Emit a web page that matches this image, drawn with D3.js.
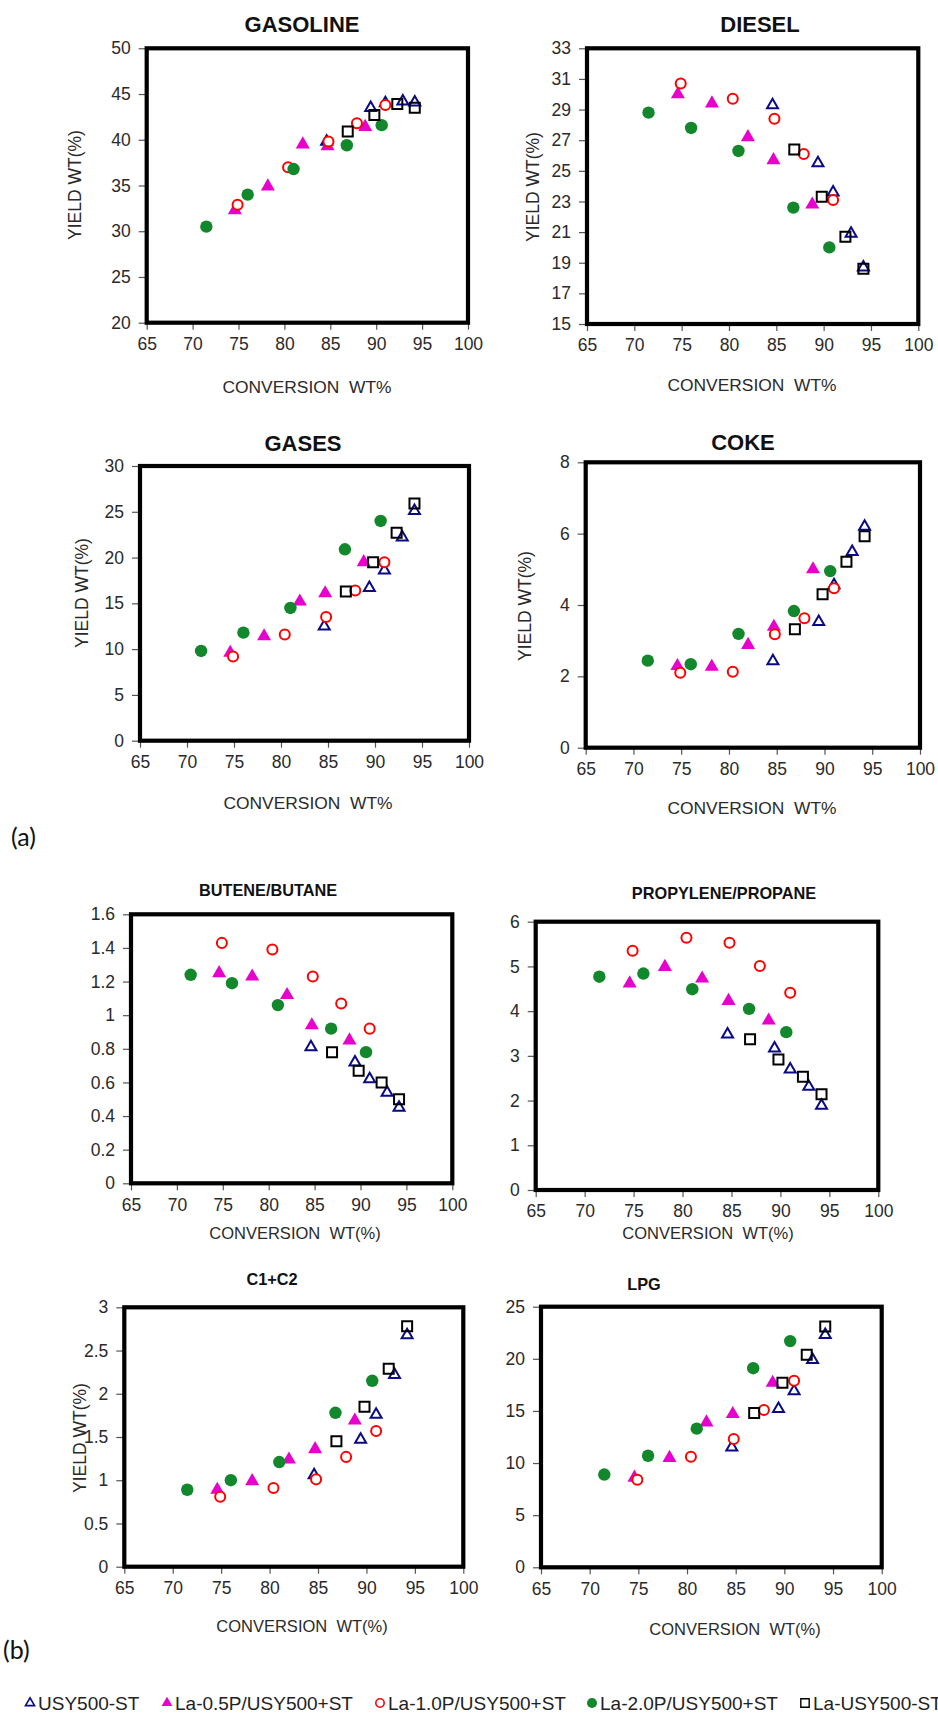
<!DOCTYPE html>
<html>
<head>
<meta charset="utf-8">
<script src="https://cdn.jsdelivr.net/npm/d3@7"></script>
<style>
  body { margin: 0; background: #fff; }
  text { font-family: "Liberation Sans", Arial, sans-serif; }
</style>
</head>
<body>
<script>
/* width and height */
var w = 938;
var h = 1713;

// catalysts, in legend order
var seriesNames = ["USY500-ST", "La-0.5P/USY500+ST", "La-1.0P/USY500+ST", "La-2.0P/USY500+ST", "La-USY500-ST"];

// conversion WT% of each catalyst (same points in every panel)
var convUSY  = [84.6, 89.4, 91.0, 92.9, 94.2];
var convLa05 = [74.6, 78.2, 82.0, 84.7, 88.8];
var convLa10 = [74.9, 80.4, 84.8, 87.9, 91.0];
var convLa20 = [71.5, 76.0, 81.0, 86.8, 90.6];
var convLaUSY = [86.9, 89.8, 92.3, 94.2];

// yields, one list per catalyst (same order as seriesNames)
var yGasoline = [
  [39.8, 43.5, 44.0, 44.2, 44.1],
  [32.3, 34.9, 39.5, 39.3, 41.4],
  [32.9, 37.0, 39.8, 41.8, 43.8],
  [30.5, 34.0, 36.8, 39.4, 41.6],
  [40.9, 42.7, 43.9, 43.5]
];
var yDiesel = [
  [29.3, 25.5, 23.6, 20.9, 18.7],
  [30.0, 29.4, 27.2, 25.7, 22.8],
  [30.7, 29.7, 28.4, 26.1, 23.1],
  [28.8, 27.8, 26.3, 22.6, 20.0],
  [26.4, 23.3, 20.7, 18.6]
];
var yGases = [
  [12.5, 16.7, 18.6, 22.2, 25.1],
  [9.6, 11.4, 15.2, 16.1, 19.5],
  [9.2, 11.6, 13.5, 16.4, 19.5],
  [9.8, 11.8, 14.5, 20.9, 24.0],
  [16.3, 19.5, 22.7, 25.9]
];
var yCoke = [
  [2.43, 3.53, 4.56, 5.49, 6.2],
  [2.29, 2.27, 2.88, 3.39, 5.0],
  [2.10, 2.13, 3.18, 3.63, 4.47],
  [2.44, 2.34, 3.19, 3.83, 4.95],
  [3.32, 4.3, 5.21, 5.93]
];
var yButene = [
  [0.81, 0.72, 0.62, 0.54, 0.45],
  [1.25, 1.23, 1.12, 0.94, 0.85],
  [1.43, 1.39, 1.23, 1.07, 0.92],
  [1.24, 1.19, 1.06, 0.92, 0.78],
  [0.78, 0.67, 0.60, 0.50]
];
var yPropylene = [
  [3.48, 3.17, 2.70, 2.31, 1.89],
  [4.62, 4.99, 4.73, 4.23, 3.79],
  [5.35, 5.64, 5.53, 5.01, 4.41],
  [4.77, 4.84, 4.49, 4.05, 3.53],
  [3.37, 2.92, 2.53, 2.14]
];
var yC1C2 = [
  [1.06, 1.47, 1.76, 2.22, 2.68],
  [0.89, 0.99, 1.24, 1.36, 1.69],
  [0.81, 0.91, 1.01, 1.27, 1.57],
  [0.89, 1.00, 1.21, 1.78, 2.15],
  [1.45, 1.85, 2.29, 2.78]
];
var yLPG = [
  [11.5, 15.2, 16.9, 19.9, 22.3],
  [8.6, 10.5, 13.9, 14.7, 17.7],
  [8.4, 10.6, 12.3, 15.1, 17.9],
  [8.9, 10.7, 13.3, 19.1, 21.7],
  [14.8, 17.7, 20.4, 23.1]
];

var xTicks = [65, 70, 75, 80, 85, 90, 95, 100];

var convs = [convUSY, convLa05, convLa10, convLa20, convLaUSY];

// marker style per catalyst
var markers = [
  {type: d3.symbolTriangle, size: 52, fill: "none", stroke: "#0a0a84", sw: 2},
  {type: d3.symbolTriangle, size: 85, fill: "#e800cc", stroke: "none", sw: 0},
  {type: d3.symbolCircle, size: 79, fill: "#fff", stroke: "#ff0000", sw: 2},
  {type: d3.symbolCircle, size: 121, fill: "#13872c", stroke: "none", sw: 0},
  {type: d3.symbolSquare, size: 100, fill: "none", stroke: "#000", sw: 2}
];

// panel layout (pixel boxes of the plot area)
var panels = [
  {title: "GASOLINE", ys: yGasoline, yTicks: [20, 25, 30, 35, 40, 45, 50],
   box: [146.7, 468, 48.3, 322.7], tPos: [302, 24], tSize: 22,
   xLabel: "CONVERSION  WT%", xlPos: [307, 387], xlSize: 17.4, ylPos: [75, 185]},
  {title: "DIESEL", ys: yDiesel, yTicks: [15, 17, 19, 21, 23, 25, 27, 29, 31, 33],
   box: [587, 918.3, 48.3, 324], tPos: [760, 24], tSize: 22,
   xLabel: "CONVERSION  WT%", xlPos: [752, 385], xlSize: 17.4, ylPos: [533, 187]},
  {title: "GASES", ys: yGases, yTicks: [0, 5, 10, 15, 20, 25, 30],
   box: [140, 469, 466, 740.7], tPos: [303, 443], tSize: 22,
   xLabel: "CONVERSION  WT%", xlPos: [308, 803], xlSize: 17.4, ylPos: [82, 593]},
  {title: "COKE", ys: yCoke, yTicks: [0, 2, 4, 6, 8],
   box: [585.7, 920, 462.3, 747.7], tPos: [743, 442], tSize: 22,
   xLabel: "CONVERSION  WT%", xlPos: [752, 808], xlSize: 17.4, ylPos: [525, 606]},
  {title: "BUTENE/BUTANE", ys: yButene, yTicks: [0, 0.2, 0.4, 0.6, 0.8, 1, 1.2, 1.4, 1.6],
   box: [131, 452.3, 914.3, 1183.3], tPos: [268, 890], tSize: 16.3,
   xLabel: "CONVERSION  WT(%)", xlPos: [295, 1233], xlSize: 16.5, ylPos: null},
  {title: "PROPYLENE/PROPANE", ys: yPropylene, yTicks: [0, 1, 2, 3, 4, 5, 6],
   box: [535.7, 878.3, 921.7, 1190], tPos: [724, 893], tSize: 16.3,
   xLabel: "CONVERSION  WT(%)", xlPos: [708, 1233], xlSize: 16.5, ylPos: null},
  {title: "C1+C2", ys: yC1C2, yTicks: [0, 0.5, 1, 1.5, 2, 2.5, 3],
   box: [124.3, 463.3, 1307.3, 1566.7], tPos: [272, 1279], tSize: 16.3,
   xLabel: "CONVERSION  WT(%)", xlPos: [302, 1626], xlSize: 16.5, ylPos: [80, 1438]},
  {title: "LPG", ys: yLPG, yTicks: [0, 5, 10, 15, 20, 25],
   box: [541, 881.7, 1306.7, 1567.3], tPos: [644, 1284], tSize: 16.3,
   xLabel: "CONVERSION  WT(%)", xlPos: [735, 1629], xlSize: 16.5, ylPos: null}
];

var svg = d3.select("body")
    .append("svg")
    .attr("width", w)
    .attr("height", h);

panels.forEach(function(p) {
    var xScale = d3.scaleLinear().domain([65, 100]).range([p.box[0], p.box[1]]);
    var yScale = d3.scaleLinear()
        .domain([p.yTicks[0], p.yTicks[p.yTicks.length - 1]])
        .range([p.box[3], p.box[2]]);

    var g = svg.append("g");

    // x axis
    var gx = g.append("g")
        .attr("transform", "translate(0," + p.box[3] + ")")
        .call(d3.axisBottom(xScale).tickValues(xTicks).tickSize(7).tickPadding(8).tickSizeOuter(0));
    // y axis
    var gy = g.append("g")
        .attr("transform", "translate(" + p.box[0] + ",0)")
        .call(d3.axisLeft(yScale).tickValues(p.yTicks).tickSize(8).tickPadding(8).tickSizeOuter(0)
              .tickFormat(function(d) { return String(+d.toFixed(1)); }));

    [gx, gy].forEach(function(a) {
        a.select(".domain").remove();
        a.selectAll(".tick line").attr("stroke", "#555").attr("stroke-width", 1.2);
        a.selectAll(".tick text")
            .attr("fill", "#2a2a2a")
            .style("font-size", "17.5px")
            .style("font-family", "'Liberation Sans', Arial, sans-serif");
    });

    // frame
    g.append("rect")
        .attr("x", p.box[0])
        .attr("y", p.box[2])
        .attr("width", p.box[1] - p.box[0])
        .attr("height", p.box[3] - p.box[2])
        .attr("fill", "none")
        .attr("stroke", "#000")
        .attr("stroke-width", 4.2);

    // points, drawn series by series in legend order
    p.ys.forEach(function(vals, si) {
        var m = markers[si];
        var pts = vals.map(function(v, i) { return [convs[si][i], v]; });
        g.selectAll(null)
            .data(pts)
            .enter()
            .append("path")
            .attr("d", d3.symbol().type(m.type).size(m.size))
            .attr("transform", function(d) {
                return "translate(" + xScale(d[0]) + "," + yScale(d[1]) + ")";
            })
            .attr("fill", m.fill)
            .attr("stroke", m.stroke)
            .attr("stroke-width", m.sw);
    });

    // title
    g.append("text")
        .attr("x", p.tPos[0])
        .attr("y", p.tPos[1])
        .attr("dy", "0.35em")
        .attr("text-anchor", "middle")
        .style("font-weight", "bold")
        .style("font-size", p.tSize + "px")
        .attr("fill", "#111")
        .text(p.title);

    // x label
    g.append("text")
        .attr("x", p.xlPos[0])
        .attr("y", p.xlPos[1])
        .attr("dy", "0.35em")
        .attr("text-anchor", "middle")
        .style("font-size", p.xlSize + "px")
        .style("white-space", "pre")
        .attr("fill", "#2a2a2a")
        .text(p.xLabel);

    // y label
    if (p.ylPos) {
        g.append("text")
            .attr("transform", "translate(" + p.ylPos[0] + "," + p.ylPos[1] + ") rotate(-90)")
            .attr("dy", "0.35em")
            .attr("text-anchor", "middle")
            .style("font-size", "17.5px")
            .attr("fill", "#2a2a2a")
            .text("YIELD WT(%)");
    }
});

// (a) / (b) labels
svg.append("text").attr("x", 11).attr("y", 837).attr("dy", "0.35em")
    .style("font-family", "Lato, 'Open Sans', sans-serif").style("font-size", "25px")
    .attr("fill", "#111").text("(a)");
svg.append("text").attr("x", 3).attr("y", 1650).attr("dy", "0.35em")
    .style("font-family", "Lato, 'Open Sans', sans-serif").style("font-size", "25px")
    .attr("fill", "#111").text("(b)");

// legend
var legendX = [30, 167, 380, 592, 805];
var legendMarkers = [
  {type: d3.symbolTriangle, size: 36, fill: "none", stroke: "#0a0a84", sw: 1.6},
  {type: d3.symbolTriangle, size: 50, fill: "#e800cc", stroke: "none", sw: 0},
  {type: d3.symbolCircle, size: 55, fill: "none", stroke: "#ff0000", sw: 1.6},
  {type: d3.symbolCircle, size: 80, fill: "#13872c", stroke: "none", sw: 0},
  {type: d3.symbolSquare, size: 70, fill: "none", stroke: "#000", sw: 1.4}
];
var legend = svg.append("g");
seriesNames.forEach(function(name, i) {
    var m = legendMarkers[i];
    legend.append("path")
        .attr("d", d3.symbol().type(m.type).size(m.size))
        .attr("transform", "translate(" + legendX[i] + ",1703)")
        .attr("fill", m.fill)
        .attr("stroke", m.stroke)
        .attr("stroke-width", m.sw);
    legend.append("text")
        .attr("x", legendX[i] + 8)
        .attr("y", 1703)
        .attr("dy", "0.35em")
        .style("font-size", "19px")
        .attr("fill", "#222")
        .text(name);
});
</script>
</body>
</html>
